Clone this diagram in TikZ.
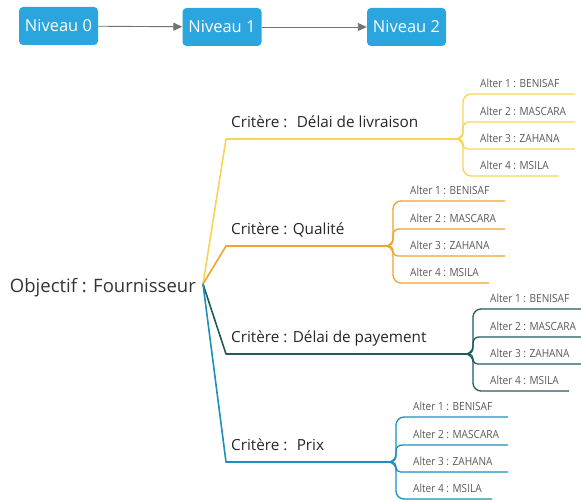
\documentclass[tikz,border=0pt]{standalone}
\usepackage{fontspec}
\setmainfont{Open Sans}
\newfontfamily\alterfont[FakeStretch=0.9]{Open Sans}
\usetikzlibrary{arrows.meta, positioning}
\definecolor{niveaublue}{RGB}{42,165,222}
\definecolor{delaiyellow}{RGB}{247,212,86}
\definecolor{qualiteorange}{RGB}{240,163,45}
\definecolor{payteal}{RGB}{30,92,90}
\definecolor{prixblue}{RGB}{28,143,190}
\tikzset{
  niveau/.style={
    rectangle, rounded corners=4pt, fill=niveaublue, text=white,
    minimum width=79pt, minimum height=38pt, inner sep=0pt,
    font=\fontsize{16.5}{18}\selectfont
  },
  levelarrow/.style={
    -{Triangle[length=9pt,width=8pt]}, draw=black!55, line width=0.9pt
  },
  objectif/.style={
    anchor=base east, inner sep=0pt, text=black!80,
    font=\fontsize{18.5}{20}\selectfont
  },
  critere/.style={
    anchor=base west, inner sep=0pt, text=black!85,
    font=\fontsize{15.3}{17}\selectfont
  },
  alter/.style={
    anchor=base west, inner sep=0pt, text=black!65,
    font=\alterfont\fontsize{11.2}{13}\selectfont
  },
  branch/.style={line width=1.6pt, line join=round},
  leaf/.style={line width=1.3pt}
}

\begin{document}
\begin{tikzpicture}[x=1pt, y=-1pt]
  \useasboundingbox (0,0) rectangle (581,500);

  % levels
  \node[niveau] (n0) at (58.5,26) {Niveau 0};
  \node[niveau] (n1) at (222,27) {Niveau 1};
  \node[niveau] (n2) at (406.5,27) {Niveau 2};
  \draw[levelarrow] (n0) -- (n1);
  \draw[levelarrow] (n1) -- (n2);

  % goal
  \node[objectif] (goal) at (196,292) {Objectif : Fournisseur};
  \coordinate (joint) at (203,284);

  % criteria and alternatives
  \foreach \nom/\col/\y/\xf/\lab in {
      delai/delaiyellow/139/457/{Critère :~ Délai de livraison},
      qualite/qualiteorange/246/387/{Critère : Qualité},
      payement/payteal/354/467/{Critère : Délai de payement},
      prix/prixblue/462/390/{Critère :~ Prix}} {
    \coordinate (\nom-stem) at (226,\y);
    \coordinate (\nom-fork) at (\xf,\y);
    \node[critere] (\nom-lab) at (231,\y-11.5) {\lab};
    \draw[branch, \col] (joint) -- (\nom-stem) -- (\nom-fork);
    \foreach \i/\dy/\ville/\len/\rc in {1/-45/BENISAF/118/8, 2/-17/MASCARA/118/6,
        3/10/ZAHANA/118/4.5, 4/37/MSILA/102/8} {
      \coordinate (\nom-e\i) at (\xf+\len,{\y+(\dy)});
      \node[alter] (\nom-a\i) at (\xf+23,{\y+(\dy)-6.5}) {Alter \i{} : \ville};
      \draw[leaf, \col, rounded corners=\rc pt] (\nom-fork) -- ++(6,0) |- (\nom-e\i);
    }
  }
\end{tikzpicture}
\end{document}
